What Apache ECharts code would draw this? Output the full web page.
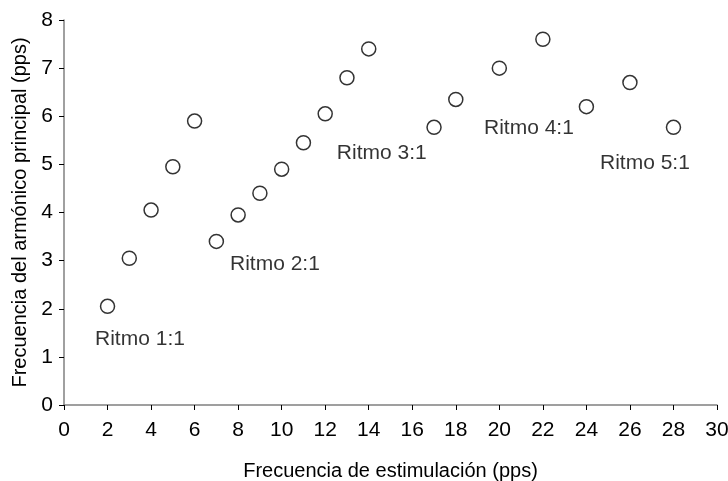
<!DOCTYPE html>
<html>
<head>
<meta charset="utf-8">
<script src="https://cdn.jsdelivr.net/npm/echarts@6/dist/echarts.min.js"></script>
<style>
html, body { margin: 0; padding: 0; background: #fff; }
#chart { width: 728px; height: 481px; }
</style>
</head>
<body>
<div id="chart"></div>
<script>
// datos
var estimulacion = [2, 3, 4, 5, 6, 7, 8, 9, 10, 11, 12, 13, 14, 17, 18, 20, 22, 24, 26, 28];
var armonico = [2.05, 3.05, 4.05, 4.95, 5.9, 3.4, 3.95, 4.4, 4.9, 5.45, 6.05, 6.8, 7.4, 5.77, 6.35, 7.0, 7.6, 6.2, 6.7, 5.77];

var ritmoTextos = ['Ritmo 1:1', 'Ritmo 2:1', 'Ritmo 3:1', 'Ritmo 4:1', 'Ritmo 5:1'];
var ritmoX = [3.49, 9.69, 14.6, 21.36, 26.69];
var ritmoY = [1.37, 2.93, 5.24, 5.76, 5.03];

var fuente = 'Liberation Sans, Arial, sans-serif';

var puntos = [];
for (var i = 0; i < estimulacion.length; i++) {
	puntos.push([estimulacion[i], armonico[i]]);
}
var etiquetas = [];
for (var j = 0; j < ritmoTextos.length; j++) {
	etiquetas.push({ name: ritmoTextos[j], value: [ritmoX[j], ritmoY[j]] });
}

var chart = echarts.init(document.getElementById('chart'));
chart.setOption({
	backgroundColor: '#fff',
	animation: false,
	grid: { left: 64, right: 11, top: 20, bottom: 76, containLabel: false, outerBoundsMode: 'none' },
	xAxis: {
		type: 'value',
		min: 0, max: 30, interval: 2,
		name: 'Frecuencia de estimulación (pps)',
		nameLocation: 'middle',
		nameGap: 56,
		nameTextStyle: { fontFamily: fuente, fontSize: 20, color: '#000' },
		axisLine: { lineStyle: { color: '#808080', width: 1.5 } },
		axisTick: { inside: false, length: 5, lineStyle: { color: '#000' } },
		axisLabel: { fontFamily: fuente, fontSize: 21, color: '#000', margin: 15 },
		splitLine: { show: false }
	},
	yAxis: {
		type: 'value',
		min: 0, max: 8, interval: 1,
		name: 'Frecuencia del armónico principal (pps)',
		nameLocation: 'middle',
		nameGap: 31,
		nameTextStyle: { fontFamily: fuente, fontSize: 20, color: '#000' },
		axisLine: { lineStyle: { color: '#808080', width: 1.5 } },
		axisTick: { inside: false, length: 5, lineStyle: { color: '#000' } },
		axisLabel: { fontFamily: fuente, fontSize: 21, color: '#000', margin: 11 },
		splitLine: { show: false }
	},
	series: [{
		type: 'scatter',
		data: puntos,
		symbol: 'circle',
		symbolSize: 14,
		itemStyle: { color: '#fff', borderColor: '#000', borderWidth: 1.5 }
	}, {
		type: 'scatter',
		data: etiquetas,
		symbolSize: 0,
		silent: true,
		label: {
			show: true,
			position: 'inside',
			formatter: '{b}',
			fontFamily: fuente,
			fontSize: 21,
			color: '#000'
		}
	}]
});
</script>
</body>
</html>
